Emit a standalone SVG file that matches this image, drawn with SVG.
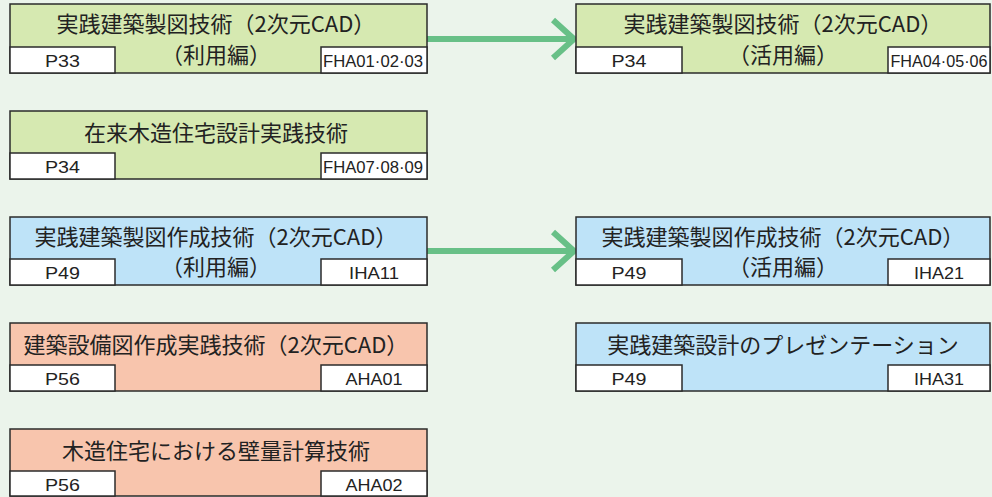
<svg xmlns="http://www.w3.org/2000/svg" width="992" height="497" viewBox="0 0 992 497">
<style>
.box{stroke:#2b2b2b;stroke-width:1.5}
.g{fill:#d6e9b1}.b{fill:#bee3f8}.s{fill:#f8c5ad}
.sub{fill:#ffffff;stroke:#2b2b2b;stroke-width:1.5}
.t{font-family:"Noto Sans CJK JP","Noto Sans",sans-serif;font-size:22px;fill:#222;text-anchor:middle}
.c{font-family:"Liberation Sans",Arial,sans-serif;font-size:17px;fill:#222;text-anchor:middle}
.arr{fill:none;stroke:#68c087;stroke-width:6}
</style>
<rect x="0" y="0" width="992" height="497" fill="#ebf4eb"/>
<g id="connectors">
<line class="arr" x1="427" y1="39" x2="572" y2="39"/>
<polyline class="arr" points="553,20 574,39 553,58"/>
<line class="arr" x1="427" y1="251" x2="572" y2="251"/>
<polyline class="arr" points="553,232 574,251 553,270"/>
</g>
<g id="n1">
<rect class="box g" x="10" y="4" width="417" height="69"/>
<rect class="sub" x="10" y="47" width="105" height="26"/>
<rect class="sub" x="321" y="47" width="106" height="26"/>
<text class="t" x="216" y="32">実践建築製図技術（2次元CAD）</text>
<text class="t" x="216" y="63">（利用編）</text>
<text class="c" x="62.5" y="67" textLength="35" lengthAdjust="spacingAndGlyphs">P33</text>
<text class="c" x="373" y="67" textLength="100" lengthAdjust="spacingAndGlyphs">FHA01·02·03</text>
</g>
<g id="n2">
<rect class="box g" x="576" y="4" width="414" height="69"/>
<rect class="sub" x="576" y="47" width="106" height="26"/>
<rect class="sub" x="888" y="47" width="102" height="26"/>
<text class="t" x="783" y="32">実践建築製図技術（2次元CAD）</text>
<text class="t" x="783" y="63">（活用編）</text>
<text class="c" x="629" y="67" textLength="35" lengthAdjust="spacingAndGlyphs">P34</text>
<text class="c" x="939" y="67" textLength="97" lengthAdjust="spacingAndGlyphs">FHA04·05·06</text>
</g>
<g id="n3">
<rect class="box g" x="10" y="111" width="417" height="68"/>
<rect class="sub" x="10" y="153" width="105" height="26"/>
<rect class="sub" x="321" y="153" width="106" height="26"/>
<text class="t" x="216" y="141">在来木造住宅設計実践技術</text>
<text class="c" x="62.5" y="173" textLength="35" lengthAdjust="spacingAndGlyphs">P34</text>
<text class="c" x="373" y="173" textLength="100" lengthAdjust="spacingAndGlyphs">FHA07·08·09</text>
</g>
<g id="n4">
<rect class="box b" x="10" y="217" width="417" height="68"/>
<rect class="sub" x="10" y="259" width="105" height="26"/>
<rect class="sub" x="321" y="259" width="106" height="26"/>
<text class="t" x="216" y="245">実践建築製図作成技術（2次元CAD）</text>
<text class="t" x="216" y="275">（利用編）</text>
<text class="c" x="62.5" y="279" textLength="35" lengthAdjust="spacingAndGlyphs">P49</text>
<text class="c" x="374" y="279" textLength="50" lengthAdjust="spacingAndGlyphs">IHA11</text>
</g>
<g id="n5">
<rect class="box b" x="576" y="217" width="414" height="68"/>
<rect class="sub" x="576" y="259" width="106" height="26"/>
<rect class="sub" x="888" y="259" width="102" height="26"/>
<text class="t" x="783" y="245">実践建築製図作成技術（2次元CAD）</text>
<text class="t" x="783" y="275">（活用編）</text>
<text class="c" x="629" y="279" textLength="35" lengthAdjust="spacingAndGlyphs">P49</text>
<text class="c" x="939" y="279" textLength="50" lengthAdjust="spacingAndGlyphs">IHA21</text>
</g>
<g id="n6">
<rect class="box s" x="10" y="323" width="417" height="68"/>
<rect class="sub" x="10" y="365" width="105" height="26"/>
<rect class="sub" x="321" y="365" width="106" height="26"/>
<text class="t" x="216" y="353">建築設備図作成実践技術（2次元CAD）</text>
<text class="c" x="62.5" y="385" textLength="35" lengthAdjust="spacingAndGlyphs">P56</text>
<text class="c" x="374" y="385" textLength="57" lengthAdjust="spacingAndGlyphs">AHA01</text>
</g>
<g id="n7">
<rect class="box b" x="576" y="323" width="414" height="68"/>
<rect class="sub" x="576" y="365" width="106" height="26"/>
<rect class="sub" x="888" y="365" width="102" height="26"/>
<text class="t" x="783" y="353">実践建築設計のプレゼンテーション</text>
<text class="c" x="629" y="385" textLength="35" lengthAdjust="spacingAndGlyphs">P49</text>
<text class="c" x="939" y="385" textLength="50" lengthAdjust="spacingAndGlyphs">IHA31</text>
</g>
<g id="n8">
<rect class="box s" x="10" y="429" width="417" height="67"/>
<rect class="sub" x="10" y="471" width="105" height="25"/>
<rect class="sub" x="321" y="471" width="106" height="25"/>
<text class="t" x="216" y="459">木造住宅における壁量計算技術</text>
<text class="c" x="62.5" y="491" textLength="35" lengthAdjust="spacingAndGlyphs">P56</text>
<text class="c" x="374" y="491" textLength="57" lengthAdjust="spacingAndGlyphs">AHA02</text>
</g>
</svg>
